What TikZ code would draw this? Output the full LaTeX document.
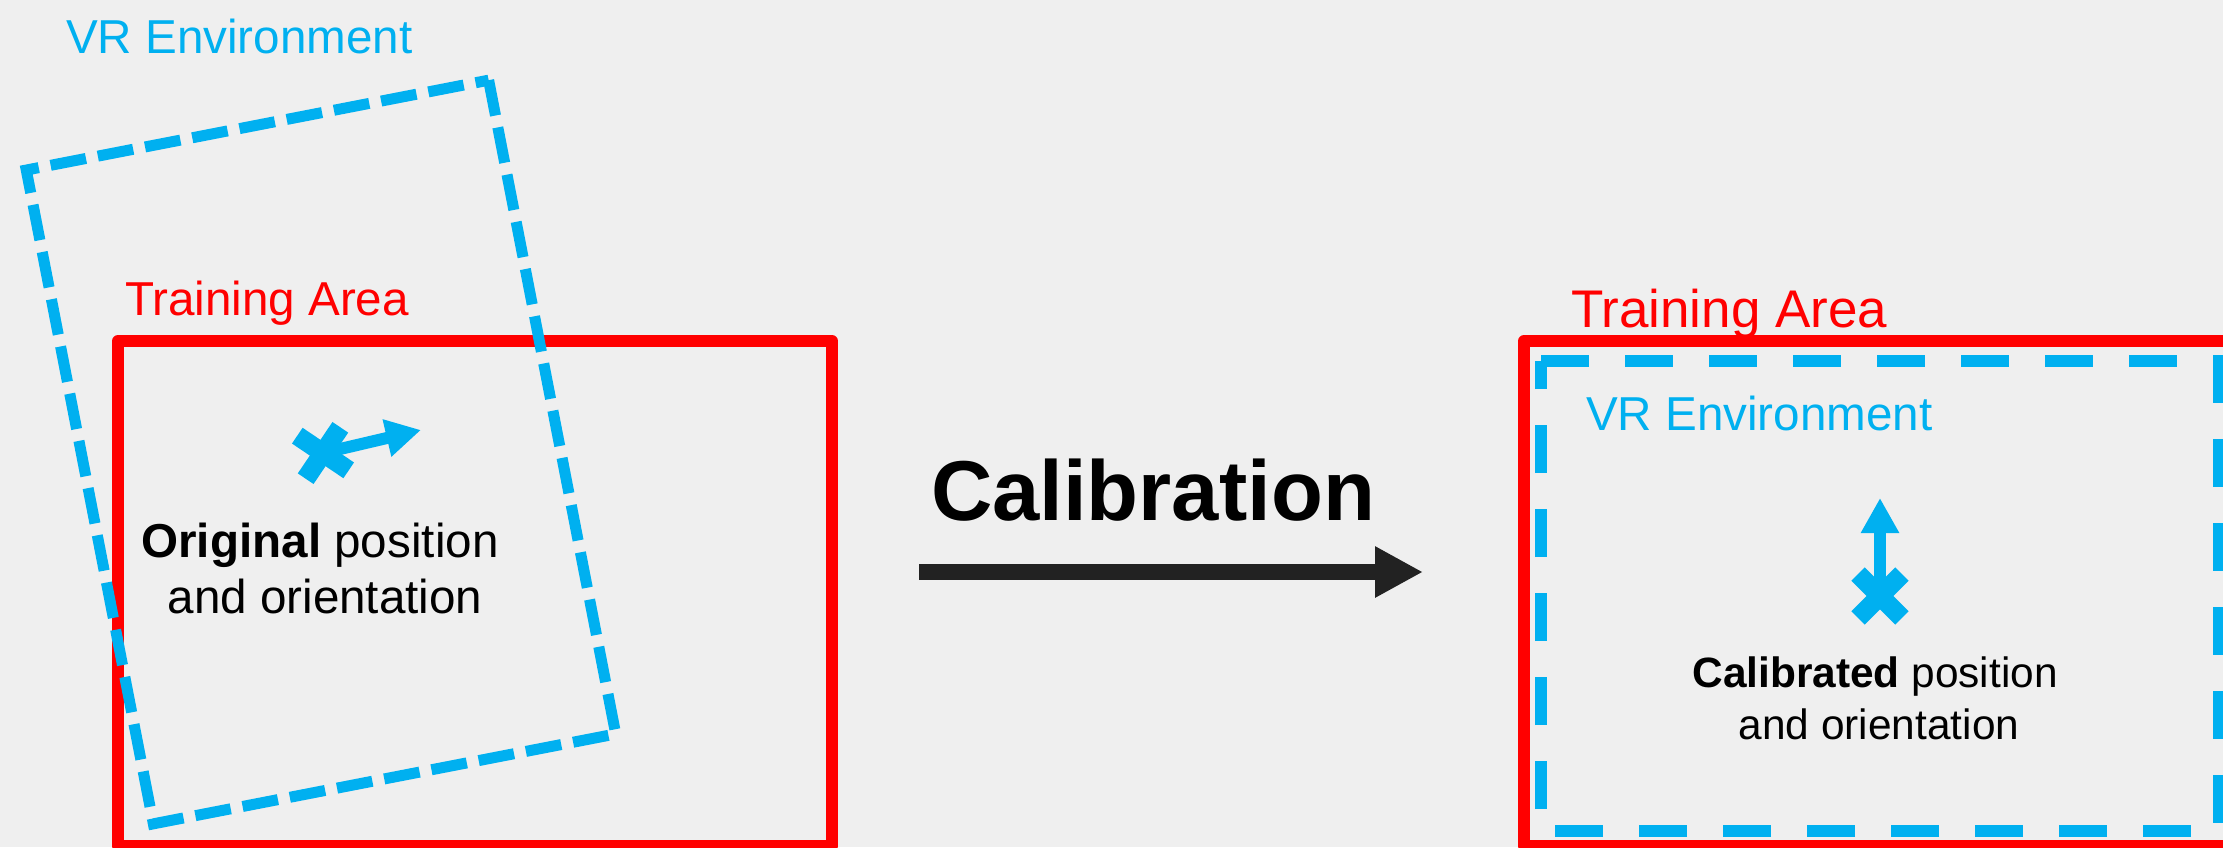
\documentclass[tikz,border=0pt]{standalone}
\usepackage{fontspec}
\setmainfont{Liberation Sans}
\usetikzlibrary{arrows.meta}
\definecolor{bgc}{RGB}{239,239,239}
\definecolor{vrblue}{RGB}{0,176,240}
\definecolor{tared}{RGB}{255,0,0}
\definecolor{arrowgray}{RGB}{34,34,34}
\newcommand{\fsz}[1]{\fontsize{#1}{#1}\selectfont}
\begin{document}
\begin{tikzpicture}[x=1pt,y=-1pt,
  lbl/.style={inner sep=0pt,outer sep=0pt,anchor=base west},
  ctr/.style={inner sep=0pt,outer sep=0pt,anchor=base},
  redbox/.style={draw=tared,line width=12pt,line join=round},
  vrdashL/.style={draw=vrblue,line width=11pt,dash pattern=on 36pt off 12.1pt},
  vrdashR/.style={draw=vrblue,line width=12pt,dash pattern=on 48pt off 36pt},
  crossbar/.style={fill=vrblue},
  dirarrow/.style={draw=vrblue,line width=12pt,-{Triangle[length=35pt,width=36pt]}},
  calarrow/.style={draw=arrowgray,line width=16pt,-{Triangle[length=48pt,width=48pt]}}]
\fill[bgc] (0,0) rectangle (2223,847);
\useasboundingbox (0,0) rectangle (2223,847);
\begin{scope}
\clip (0,0) rectangle (2223,847);
% left red training area
\draw[redbox] (118,341) rectangle (832,846);
% right red training area
\draw[redbox] (1524,341) rectangle (2260,846);
% left rotated VR environment
\begin{scope}[shift={(321,452)},rotate=11]
\draw[vrdashL] (235.5,-333) -- (235.5,333) -- (-235.5,333) -- (-235.5,-333) -- cycle;
\end{scope}
\begin{scope}[shift={(323,453)},rotate=11]
\fill[crossbar,rotate=45] (-31,-9.5) rectangle (31,9.5);
\fill[crossbar,rotate=-45] (-31,-9.5) rectangle (31,9.5);
\end{scope}
\coordinate (lc) at (323,453);
\coordinate (lt) at (421,430);
\draw[dirarrow] (lc) -- (lt);
% right VR environment
\draw[vrdashR] (1541,361) -- (2219,361) -- (2219,831) -- (1541,831) -- cycle;
\begin{scope}[shift={(1880,596)}]
\fill[crossbar,rotate=45] (-31,-9.5) rectangle (31,9.5);
\fill[crossbar,rotate=-45] (-31,-9.5) rectangle (31,9.5);
\end{scope}
\coordinate (rc) at (1880,596);
\coordinate (rt) at (1880,498);
\draw[dirarrow] (rc) -- (rt);
% calibration arrow
\coordinate (ca) at (919,572);
\coordinate (cb) at (1423,572);
\draw[calarrow] (ca) -- (cb);
\end{scope}
% labels
\node[lbl,text=vrblue] (vrL) at (66,53) {\fsz{47.6}VR Environment};
\node[lbl,text=tared] (taL) at (125,315) {\fsz{47.6}Training Area};
\node[lbl,text=tared] (taR) at (1571,327) {\fsz{53}Training Area};
\node[lbl,text=vrblue] (vrR) at (1586,430) {\fsz{47.6}VR Environment};
\node[ctr] (orig1) at (320,557) {\fsz{47.6}\textbf{Original} position};
\node[ctr] (orig2) at (325,613) {\fsz{47.6}and orientation};
\node[ctr] (cal1) at (1875,687) {\fsz{42.4}\textbf{Calibrated} position};
\node[ctr] (cal2) at (1879,739) {\fsz{42.4}and orientation};
\node[ctr] (calib) at (1153,520) {\fsz{85}\textbf{Calibration}};
\end{tikzpicture}
\end{document}
